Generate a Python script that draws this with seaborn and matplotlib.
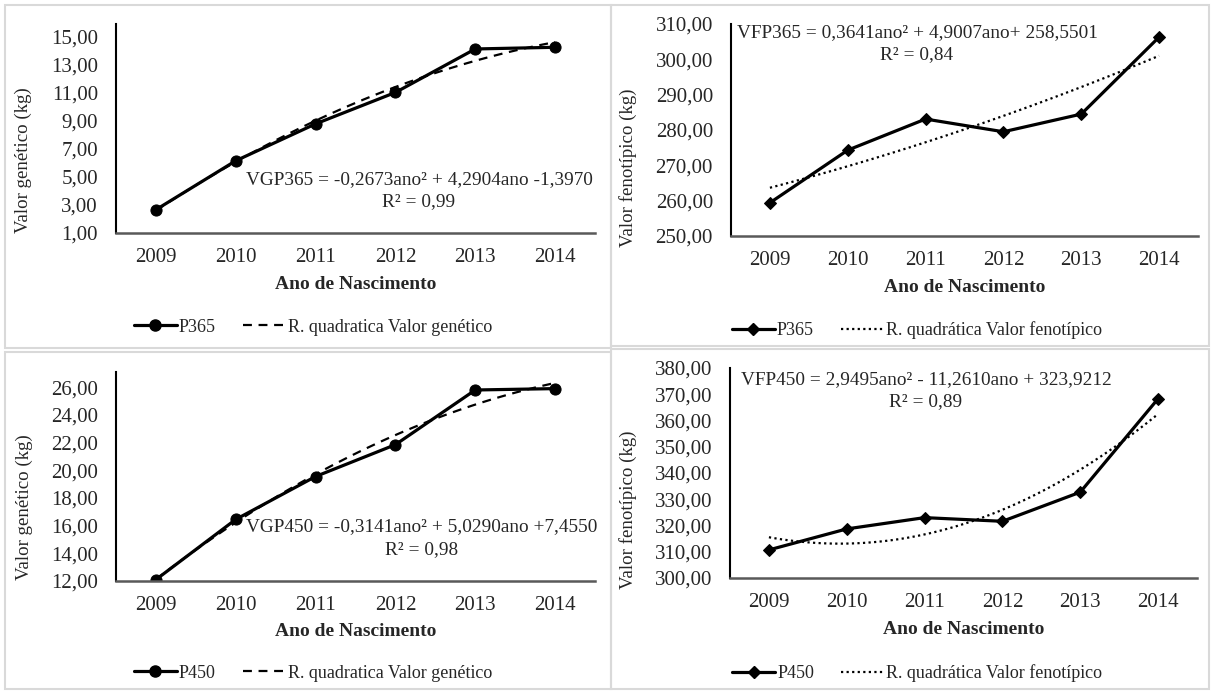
import matplotlib
matplotlib.use("Agg")
import matplotlib.pyplot as plt
import matplotlib.ticker as mticker
from matplotlib.patches import Rectangle
from matplotlib.lines import Line2D
import numpy as np
import pandas as pd
import seaborn as sns

anos = [2009, 2010, 2011, 2012, 2013, 2014]

p365_genetico = [2.66, 6.15, 8.78, 11.02, 14.12, 14.24]
p365_fenotipico = [259.4, 274.3, 283.1, 279.5, 284.5, 306.3]
p450_genetico = [12.1, 16.45, 19.55, 21.85, 25.8, 25.9]
p450_fenotipico = [310.7, 318.7, 323.0, 321.6, 332.7, 368.3]

eq_gp365 = "VGP365 = -0,2673ano² + 4,2904ano -1,3970"
eq_fp365 = "VFP365 = 0,3641ano² + 4,9007ano+ 258,5501"
eq_gp450 = "VGP450 = -0,3141ano² + 5,0290ano +7,4550"
eq_fp450 = "VFP450 = 2,9495ano² - 11,2610ano + 323,9212"
r2_gp365 = "R² = 0,99"
r2_fp365 = "R² = 0,84"
r2_gp450 = "R² = 0,98"
r2_fp450 = "R² = 0,89"

sns.set_theme(style="white")
plt.rcParams["font.family"] = ["Liberation Serif", "DejaVu Serif"]

W, H = 1213, 693
fig = plt.figure(figsize=(W / 100, H / 100), dpi=100)


def px(x0, y0, x1, y1):
    # pixel box (left, top, right, bottom) -> figure fraction rect
    return [x0 / W, 1 - y1 / H, (x1 - x0) / W, (y1 - y0) / H]


# panel borders
for (x0, y0, x1, y1) in [(5, 5, 611, 348), (611, 5, 1209, 346),
                         (5, 352, 611, 689), (611, 349, 1209, 689)]:
    fig.patches.append(Rectangle((x0 / W, 1 - y1 / H), (x1 - x0) / W, (y1 - y0) / H,
                                 transform=fig.transFigure, fill=False,
                                 edgecolor="#d9d9d9", lw=1.5))

fmt = mticker.FuncFormatter(lambda v, p: f"{v:.2f}".replace(".", ","))

paineis = [
    dict(box=(116, 24, 595, 233), y=p365_genetico, nome="P365", tipo="gen",
         ylim=(1, 15.9), step=2, ylab="Valor genético (kg)", ylab_xy=(-0.175, 0.35),
         xlab_y=-0.245, eq=eq_gp365, r2=r2_gp365, eq_xy=(419, 180), r2_xy=(419, 202),
         leg_xy=(313, 327)),
    dict(box=(731, 24, 1198, 236), y=p365_fenotipico, nome="P365", tipo="fen",
         ylim=(250, 310), step=10, ylab="Valor fenotípico (kg)", ylab_xy=(-0.201, 0.32),
         xlab_y=-0.245, eq=eq_fp365, r2=r2_fp365, eq_xy=(917, 33), r2_xy=(917, 55),
         leg_xy=(917, 330)),
    dict(box=(116, 372, 595, 581), y=p450_genetico, nome="P450", tipo="gen",
         ylim=(12, 27.1), step=2, ylab="Valor genético (kg)", ylab_xy=(-0.174, 0.354),
         xlab_y=-0.24, eq=eq_gp450, r2=r2_gp450, eq_xy=(422, 527), r2_xy=(422, 550),
         leg_xy=(313, 673)),
    dict(box=(730, 368, 1197, 578), y=p450_fenotipico, nome="P450", tipo="fen",
         ylim=(300, 380), step=10, ylab="Valor fenotípico (kg)", ylab_xy=(-0.199, 0.324),
         xlab_y=-0.243, eq=eq_fp450, r2=r2_fp450, eq_xy=(926, 380), r2_xy=(926, 402),
         leg_xy=(917, 673)),
]

fs_tick = 15
fs_lab = 13.6
fs_eq = 13.9
fs_leg = 13
for p in paineis:
    ax = fig.add_axes(px(*p["box"]))
    df = pd.DataFrame({"ano": anos, "valor": p["y"]})
    gen = p["tipo"] == "gen"
    marker = "o" if gen else "D"
    msize = 8 if gen else 6.5
    ls_trend = (0, (4, 3)) if gen else (0, (1, 1.5))
    trend_label = "R. quadratica Valor genético" if gen else "R. quadrática Valor fenotípico"

    sns.regplot(data=df, x="ano", y="valor", order=2, ci=None, scatter=False, ax=ax,
                line_kws=dict(color="black", lw=1.6, linestyle=ls_trend))
    sns.lineplot(data=df, x="ano", y="valor", ax=ax, color="black", lw=2.3,
                 marker=marker, markersize=msize, markeredgecolor="black")

    ax.set_xlim(2008.5, 2014.5)
    ax.set_ylim(*p["ylim"])
    ax.set_xticks(anos)
    ax.set_xticklabels([str(a) for a in anos])
    ax.set_yticks(np.arange(p["ylim"][0], p["ylim"][1] + 0.01, p["step"]))
    ax.yaxis.set_major_formatter(fmt)
    ax.tick_params(axis="y", length=0, pad=13, labelsize=fs_tick, labelcolor="#262626")
    ax.tick_params(axis="x", length=0, pad=11, labelsize=fs_tick, labelcolor="#262626")
    for s in ["top", "right"]:
        ax.spines[s].set_visible(False)
    ax.spines["left"].set_color("black")
    ax.spines["left"].set_linewidth(1.5)
    ax.spines["bottom"].set_color("#595959")
    ax.spines["bottom"].set_linewidth(1.8)
    ax.set_facecolor("none")

    ax.set_ylabel(p["ylab"], fontsize=fs_lab, color="#262626")
    ax.yaxis.set_label_coords(*p["ylab_xy"])
    ax.set_xlabel("Ano de Nascimento", fontsize=fs_lab + 0.4, fontweight="bold",
                  color="#262626")
    ax.xaxis.label.set_va("center")
    ax.xaxis.set_label_coords(0.5, p["xlab_y"])

    fig.text(p["eq_xy"][0] / W, 1 - p["eq_xy"][1] / H, p["eq"], ha="center", va="center",
             fontsize=fs_eq, color="#262626")
    fig.text(p["r2_xy"][0] / W, 1 - p["r2_xy"][1] / H, p["r2"], ha="center", va="center",
             fontsize=fs_eq, color="#262626")

    handles = [
        Line2D([], [], color="black", lw=2.3, marker=marker, markersize=msize),
        Line2D([], [], color="black", lw=1.6, linestyle=ls_trend),
    ]
    fig.legend(handles, [p["nome"], trend_label], loc="center",
               bbox_to_anchor=(p["leg_xy"][0] / W, 1 - p["leg_xy"][1] / H),
               ncol=2, frameon=False, fontsize=fs_leg, handlelength=2.4,
               handletextpad=0.1, columnspacing=1.5, labelcolor="#262626")

fig.savefig("out.png", dpi=100)
